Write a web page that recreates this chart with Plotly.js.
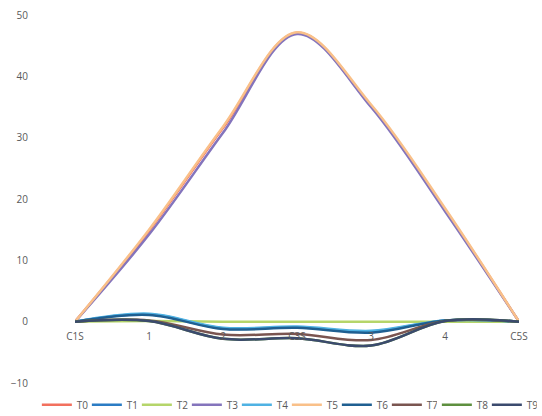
<!DOCTYPE html>
<html>
<head>
<meta charset="utf-8">
<script src="https://cdn.plot.ly/plotly-3.0.1.min.js"></script>
<style>html,body{margin:0;padding:0;background:#fff;}#chart{width:542px;height:416px;}</style>
</head>
<body>
<div id="chart"></div>
<script>
const categories = ["C1S", "1", "2", "C3S", "3", "4", "C5S"];
const seriesNames = ["T0", "T1", "T2", "T3", "T4", "T5", "T6", "T7", "T8", "T9"];
const T0 = [0, 14.8, 31.6, 47.1, 35.2, 18.3, 0];
const T1 = [0, 1.2, -1.1, -0.9, -1.6, 0.2, 0];
const T2 = [0, 0.1, 0, 0, 0, 0, 0];
const T3 = [0, 14.2, 30.8, 46.9, 35.0, 18.0, 0];
const T4 = [0, 1.3, -1.0, -0.8, -1.5, 0.2, 0];
const T5 = [0, 15.0, 31.8, 47.2, 35.4, 18.5, 0];
const T6 = [0, 1.1, -1.2, -1.0, -1.8, 0.2, 0];
const T7 = [0, 0.2, -2.1, -2.0, -3.0, 0.1, 0];
const T8 = [0, 0.1, -2.8, -2.7, -3.9, 0.1, 0];
const T9 = [0, 0.1, -2.8, -2.7, -3.9, 0.1, 0];
const values = [T0, T1, T2, T3, T4, T5, T6, T7, T8, T9];
const colors = ["#F2705E", "#2B7CC4", "#B5D56A", "#8474BC", "#4FB2E3", "#F9C089", "#1F5F91", "#7A5550", "#5E8F3F", "#3B4A6E"];
const yTicks = [-10, 0, 10, 20, 30, 40, 50];

const traces = values.map((v, i) => ({
  type: "scatter",
  mode: "lines",
  name: seriesNames[i],
  legend: i < 8 ? "legend" : "legend2",
  x: categories,
  y: v,
  line: {color: colors[i], width: 2.5, shape: "spline", smoothing: 1}
}));

const font = {family: "Open Sans, Liberation Sans, sans-serif", size: 10, color: "#595959"};
const legendBase = {
  orientation: "h",
  xref: "container", yref: "container",
  xanchor: "left",
  y: 0.027, yanchor: "middle",
  entrywidth: 5, entrywidthmode: "pixels",
  itemwidth: 30,
  font: {family: "Open Sans, Liberation Sans, sans-serif", size: 10, color: "#595959"},
  tracegroupgap: 0
};
const layout = {
  width: 542, height: 416,
  margin: {l: 75, r: 23, t: 15, b: 33},
  paper_bgcolor: "#ffffff", plot_bgcolor: "#ffffff",
  font: font,
  showlegend: true,
  xaxis: {
    type: "category",
    range: [0, 6],
    showgrid: false, zeroline: false, showline: false,
    anchor: "free", position: 1/6,
    ticks: "", ticklabelstandoff: 7, tickfont: font,
    fixedrange: true
  },
  yaxis: {
    range: [-10, 50],
    tickvals: yTicks,
    showgrid: false, zeroline: false, showline: false,
    ticks: "", ticklabelstandoff: 46,
    tickfont: font,
    fixedrange: true
  },
  legend: Object.assign({}, legendBase, {x: 0.068}),
  legend2: Object.assign({}, legendBase, {x: 0.068 + 400 / 542})
};

Plotly.newPlot("chart", traces, layout, {displayModeBar: false, staticPlot: true});
</script>
</body>
</html>
